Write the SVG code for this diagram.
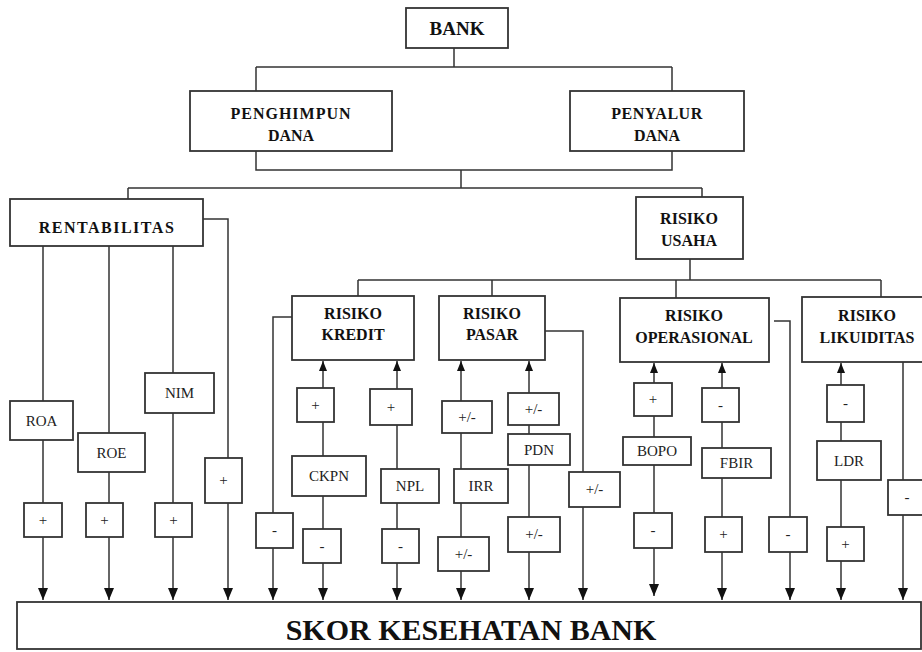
<svg xmlns="http://www.w3.org/2000/svg" width="922" height="652" viewBox="0 0 922 652">
<defs>
<marker id="down" markerUnits="userSpaceOnUse" markerWidth="12" markerHeight="10" viewBox="0 0 12 10" refX="12" refY="5" orient="auto"><path d="M0,0 L12,5 L0,10 z" fill="#111"/></marker>
<marker id="up" markerUnits="userSpaceOnUse" markerWidth="10" markerHeight="8" viewBox="0 0 10 8" refX="10" refY="4" orient="auto"><path d="M0,0 L10,4 L0,8 z" fill="#111"/></marker>
</defs>
<style>
rect{fill:#fff;stroke:#333;stroke-width:1.8}
.h{font-family:"Liberation Serif","Times New Roman",serif;font-weight:bold;font-size:16px;fill:#111;text-anchor:middle}
.l{font-family:"Liberation Serif","Times New Roman",serif;font-size:15px;fill:#222;text-anchor:middle}
.s{font-family:"Liberation Serif","Times New Roman",serif;font-size:15px;fill:#222;text-anchor:middle}
#connectors path{fill:none;stroke:#333;stroke-width:1.5}
#connectors .d{marker-end:url(#down)}
#connectors .u{marker-end:url(#up)}
</style>
<rect x="0" y="0" width="922" height="652" style="fill:#fff;stroke:none"/>
<g id="connectors">
<path d="M454 48V67M256 67H672M256 67V91M672 67V91"/>
<path d="M256 151V170H672V151M461 170V188M128 188H702M128 188V199M702 188V197"/>
<path d="M690 259V280M358 280H881M358 280V296M492 280V296M676 280V298M881 280V297"/>
<path d="M43 246V401M43 440V503M109 246V433M109 472V503M173 246V373M173 413V503M203 219H228V458"/>
<path d="M292 317H273V513"/>
<path d="M323 422V456M323 496V529M397 425V469M397 503V529M461 433V469M461 503V537M529 425V434M529 465V517M545 331H583V472"/>
<path d="M654 416V437M654 465V513M722 422V448M722 478V517M774 321H790V517M841 422V441M841 480V527M903 362V480"/>
<path class="u" d="M323 388V361"/>
<path class="u" d="M397 389V361"/>
<path class="u" d="M461 401V361"/>
<path class="u" d="M529 393V361"/>
<path class="u" d="M654 383V363"/>
<path class="u" d="M722 388V363"/>
<path class="u" d="M841 385V363"/>
<path class="d" d="M43 537V600"/>
<path class="d" d="M109 537V600"/>
<path class="d" d="M173 537V600"/>
<path class="d" d="M228 503V600"/>
<path class="d" d="M273 548V600"/>
<path class="d" d="M323 563V600"/>
<path class="d" d="M397 563V600"/>
<path class="d" d="M461 571V600"/>
<path class="d" d="M529 552V600"/>
<path class="d" d="M583 507V600"/>
<path class="d" d="M654 548V596"/>
<path class="d" d="M722 552V600"/>
<path class="d" d="M790 552V600"/>
<path class="d" d="M841 561V600"/>
<path class="d" d="M903 515V600"/>
</g>
<g id="bank"><rect x="406" y="8" width="102" height="40"/><text class="h" x="457" y="35" style="font-size:19px">BANK</text></g>
<g id="penghimpun"><rect x="190" y="91" width="202" height="60"/><text class="h" x="291" y="119" style="letter-spacing:1px">PENGHIMPUN</text><text class="h" x="291" y="141">DANA</text></g>
<g id="penyalur"><rect x="570" y="91" width="174" height="60"/><text class="h" x="657" y="119" style="letter-spacing:0.5px">PENYALUR</text><text class="h" x="657" y="141">DANA</text></g>
<g id="rentabilitas"><rect x="10" y="199" width="193" height="47"/><text class="h" x="107" y="233" style="letter-spacing:1.5px">RENTABILITAS</text></g>
<g id="risiko-usaha"><rect x="636" y="197" width="107" height="62"/><text class="h" x="689" y="224">RISIKO</text><text class="h" x="689" y="246">USAHA</text></g>
<g id="risiko-kredit"><rect x="292" y="296" width="122" height="64"/><text class="h" x="353" y="319">RISIKO</text><text class="h" x="353" y="340">KREDIT</text></g>
<g id="risiko-pasar"><rect x="439" y="296" width="106" height="64"/><text class="h" x="492" y="319">RISIKO</text><text class="h" x="492" y="340">PASAR</text></g>
<g id="risiko-operasional"><rect x="620" y="298" width="149" height="64"/><text class="h" x="694" y="321">RISIKO</text><text class="h" x="694" y="343">OPERASIONAL</text></g>
<g id="risiko-likuiditas"><rect x="802" y="297" width="121" height="65"/><text class="h" x="867" y="321">RISIKO</text><text class="h" x="867" y="343">LIKUIDITAS</text></g>
<g id="roa"><rect x="10" y="401" width="63" height="39"/><text class="l" x="41.5" y="426">ROA</text></g>
<g id="roa-sign"><rect x="24" y="503" width="38" height="34"/><text class="s" x="43" y="525">+</text></g>
<g id="roe"><rect x="78" y="433" width="67" height="39"/><text class="l" x="111.5" y="458">ROE</text></g>
<g id="roe-sign"><rect x="86" y="503" width="37" height="34"/><text class="s" x="104.5" y="525">+</text></g>
<g id="nim"><rect x="145" y="373" width="69" height="40"/><text class="l" x="179.5" y="398">NIM</text></g>
<g id="nim-sign"><rect x="155" y="503" width="37" height="34"/><text class="s" x="173.5" y="525">+</text></g>
<g id="rent-sign"><rect x="205" y="458" width="37" height="45"/><text class="s" x="223.5" y="485">+</text></g>
<g id="kredit-sign"><rect x="256" y="513" width="37" height="35"/><text class="s" x="274.5" y="535">-</text></g>
<g id="ckpn-plus"><rect x="297" y="388" width="37" height="34"/><text class="s" x="315.5" y="410">+</text></g>
<g id="ckpn"><rect x="292" y="456" width="74" height="40"/><text class="l" x="329" y="481">CKPN</text></g>
<g id="ckpn-minus"><rect x="303" y="529" width="38" height="34"/><text class="s" x="322" y="551">-</text></g>
<g id="npl-plus"><rect x="370" y="389" width="42" height="36"/><text class="s" x="391" y="412">+</text></g>
<g id="npl"><rect x="381" y="469" width="58" height="34"/><text class="l" x="410" y="491">NPL</text></g>
<g id="npl-minus"><rect x="382" y="529" width="37" height="34"/><text class="s" x="400.5" y="551">-</text></g>
<g id="irr-sign-top"><rect x="442" y="401" width="50" height="32"/><text class="s" x="467" y="422">+/-</text></g>
<g id="irr"><rect x="454" y="469" width="54" height="34"/><text class="l" x="481" y="491">IRR</text></g>
<g id="irr-sign-bottom"><rect x="438" y="537" width="51" height="34"/><text class="s" x="463.5" y="559">+/-</text></g>
<g id="pdn-sign-top"><rect x="508" y="393" width="51" height="32"/><text class="s" x="533.5" y="414">+/-</text></g>
<g id="pdn"><rect x="508" y="434" width="62" height="31"/><text class="l" x="539" y="455">PDN</text></g>
<g id="pdn-sign-bottom"><rect x="508" y="517" width="52" height="35"/><text class="s" x="534" y="539">+/-</text></g>
<g id="pasar-sign"><rect x="569" y="472" width="51" height="35"/><text class="s" x="594.5" y="494">+/-</text></g>
<g id="bopo-plus"><rect x="634" y="383" width="38" height="33"/><text class="s" x="653" y="404">+</text></g>
<g id="bopo"><rect x="623" y="437" width="68" height="28"/><text class="l" x="657" y="456">BOPO</text></g>
<g id="bopo-minus"><rect x="634" y="513" width="38" height="35"/><text class="s" x="653" y="535">-</text></g>
<g id="fbir-minus"><rect x="702" y="388" width="37" height="34"/><text class="s" x="720.5" y="410">-</text></g>
<g id="fbir"><rect x="702" y="448" width="69" height="30"/><text class="l" x="736.5" y="468">FBIR</text></g>
<g id="fbir-plus"><rect x="705" y="517" width="37" height="35"/><text class="s" x="723.5" y="539">+</text></g>
<g id="operasional-sign"><rect x="769" y="517" width="38" height="35"/><text class="s" x="788" y="539">-</text></g>
<g id="ldr-minus"><rect x="827" y="385" width="37" height="37"/><text class="s" x="845.5" y="408">-</text></g>
<g id="ldr"><rect x="817" y="441" width="64" height="39"/><text class="l" x="849" y="466">LDR</text></g>
<g id="ldr-plus"><rect x="827" y="527" width="37" height="34"/><text class="s" x="845.5" y="549">+</text></g>
<g id="likuiditas-sign"><rect x="888" y="480" width="38" height="35"/><text class="s" x="907" y="502">-</text></g>
<g id="skor"><rect x="17" y="602" width="904" height="47"/><text class="h" x="471" y="640" style="font-size:30px">SKOR KESEHATAN BANK</text></g>
</svg>
